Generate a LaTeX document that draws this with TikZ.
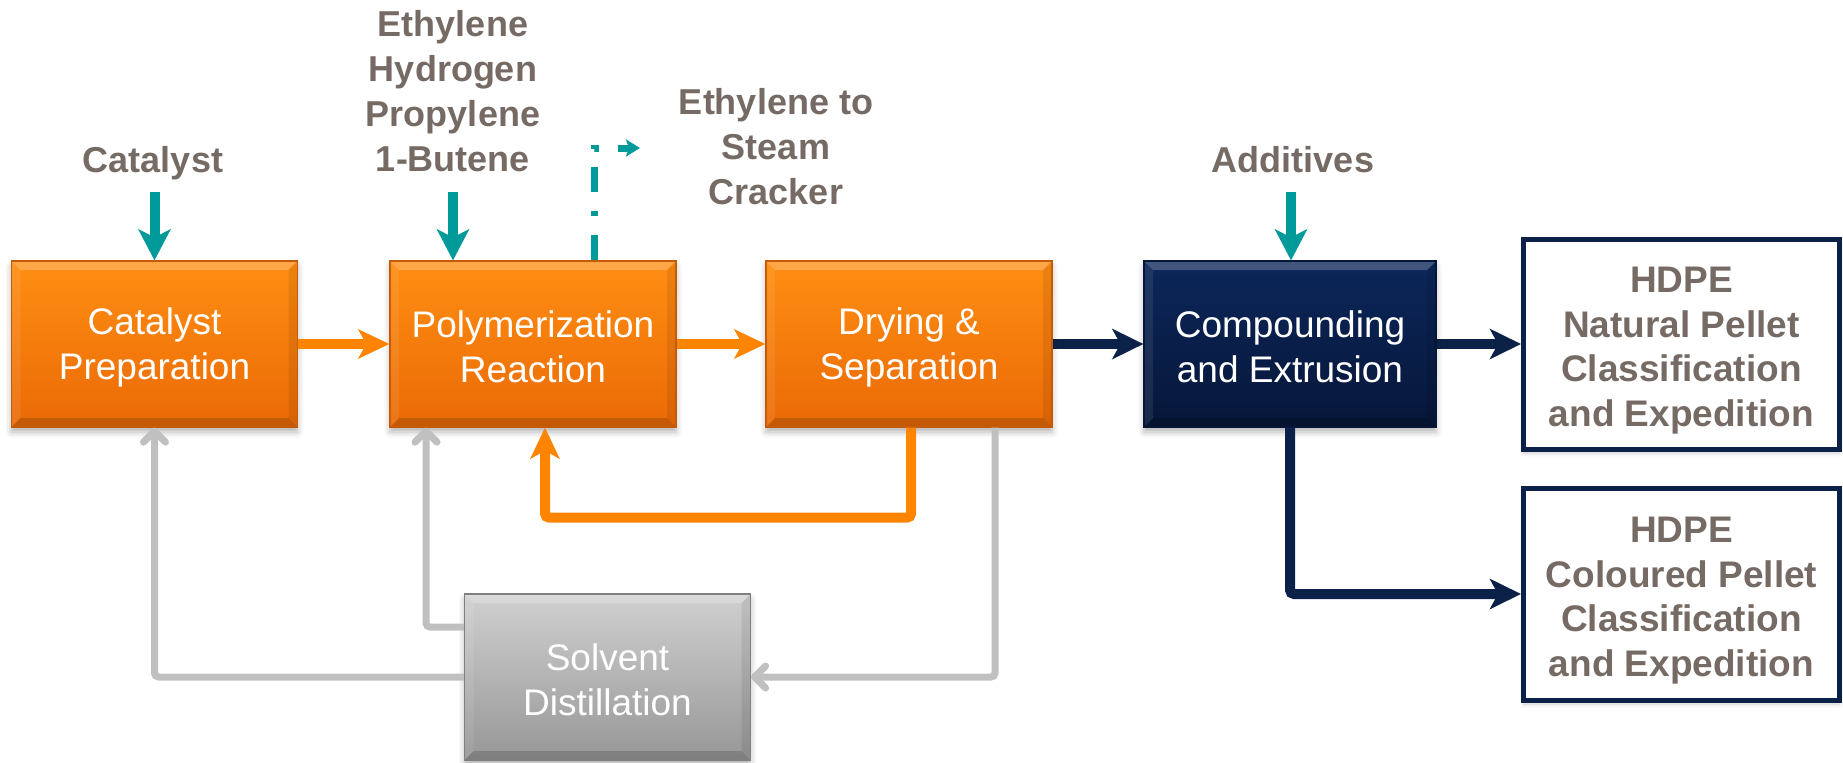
\documentclass[tikz,border=0pt]{standalone}
\usepackage{fontspec}
\setmainfont{Liberation Sans}
\usetikzlibrary{arrows.meta,shadows.blur}

\definecolor{labelgray}{HTML}{766B64}
\definecolor{feedteal}{HTML}{009A9A}
\definecolor{orangeA}{HTML}{FF8E12}
\definecolor{orangeB}{HTML}{EA6A06}
\definecolor{orangeLine}{HTML}{FF8400}
\definecolor{navyA}{HTML}{0C275A}
\definecolor{navyB}{HTML}{061639}
\definecolor{navyLine}{HTML}{0B2147}
\definecolor{greyA}{HTML}{D0D0D0}
\definecolor{greyB}{HTML}{979797}
\definecolor{greyLine}{HTML}{C0C0C0}

% extra height on a first line, to set the lines a little lower in a block
\newcommand\blocklead{\rule{0pt}{16.5pt}}
\newcommand\outlead{\rule{0pt}{19.3pt}}

\tikzset{
  bevel/.style={path picture={
    \path (path picture bounding box.north west) coordinate (bvA)
          (path picture bounding box.north east) coordinate (bvB)
          (path picture bounding box.south east) coordinate (bvC)
          (path picture bounding box.south west) coordinate (bvD);
    \fill[white,opacity=.22] (bvA) -- (bvB) -- ([shift={(-4.5pt,-4.5pt)}]bvB) -- ([shift={(4.5pt,-4.5pt)}]bvA) -- cycle;
    \fill[black,opacity=.16] (bvD) -- (bvC) -- ([shift={(-4.5pt,4.5pt)}]bvC) -- ([shift={(4.5pt,4.5pt)}]bvD) -- cycle;
    \fill[white,opacity=.08] (bvA) -- ([shift={(4.5pt,-4.5pt)}]bvA) -- ([shift={(4.5pt,4.5pt)}]bvD) -- (bvD) -- cycle;
    \fill[black,opacity=.08] (bvB) -- ([shift={(-4.5pt,-4.5pt)}]bvB) -- ([shift={(-4.5pt,4.5pt)}]bvC) -- (bvC) -- cycle;
  }},
  procbox/.style={minimum width=143pt, minimum height=83pt, inner sep=0pt,
    align=center, text=white, font=\fontsize{18.5}{22.5}\selectfont, bevel,
    blur shadow={shadow xshift=0pt, shadow yshift=-2.5pt, shadow blur radius=3pt, shadow opacity=30}},
  orangebox/.style={procbox, top color=orangeA, bottom color=orangeB, draw=orangeB!85!black, line width=0.6pt},
  navybox/.style={procbox, minimum width=146pt, top color=navyA, bottom color=navyB, draw=navyB, line width=0.6pt},
  greybox/.style={procbox, top color=greyA, bottom color=greyB, draw=greyB!85!black, line width=0.6pt},
  outbox/.style={minimum width=158pt, inner sep=0pt, align=center, fill=white,
    draw=navyLine, line width=2.5pt, text=labelgray,
    font=\bfseries\fontsize{18.5}{22.4}\selectfont,
    blur shadow={shadow xshift=0pt, shadow yshift=-2pt, shadow blur radius=2pt, shadow opacity=20}},
  labeltext/.style={inner sep=0pt, align=center, text=labelgray,
    font=\bfseries\fontsize{18}{22.5}\selectfont},
  feedarrow/.style={draw=feedteal, line width=5pt, -{Stealth[length=15.5pt,width=16pt,inset=4pt]}},
  ventarrow/.style={draw=feedteal, line width=3.5pt,
    dash pattern=on 12.5pt off 9.5pt on 2.5pt off 9.5pt,
    -{Stealth[length=7pt,width=8.5pt,inset=1.5pt]}},
  orangearrow/.style={draw=orangeLine, line width=5pt, rounded corners=2pt,
    -{Stealth[length=15.5pt,width=14.5pt,inset=4pt]}},
  navyarrow/.style={draw=navyLine, line width=5pt, rounded corners=2pt,
    -{Stealth[length=15.5pt,width=15pt,inset=4pt]}},
  greyarrow/.style={draw=greyLine, line width=3.5pt, rounded corners=2pt,
    -{Straight Barb[length=5.5pt,width=11pt,round]}}
}

\begin{document}
\begin{tikzpicture}[x=0.5pt,y=-0.5pt]
\useasboundingbox (0,0) rectangle (1843,762);

% process blocks
\node[orangebox] (cat)  at (154.5,344) {\blocklead Catalyst\\Preparation};
\node[orangebox] (poly) at (533,344)   {\blocklead Polymerization\\Reaction};
\node[orangebox] (dry)  at (909,344)   {\blocklead Drying \&\\Separation};
\node[navybox]   (comp) at (1290,344)  {\blocklead Compounding\\and Extrusion};
\node[greybox]   (solv) at (607.5,677) {\blocklead Solvent\\Distillation};

% product blocks
\node[outbox, minimum height=105pt] (nat) at (1681.5,344)
  {\outlead HDPE\\Natural Pellet\\Classification\\and Expedition};
\node[outbox, minimum height=106pt] (col) at (1681.5,594)
  {\outlead HDPE\\Coloured Pellet\\Classification\\and Expedition};

% feed and vent labels
\node[labeltext, anchor=base]  (catlbl)  at (153,172)  {Catalyst};
\node[labeltext, anchor=south] (feedlbl) at (453,172)  {Ethylene\\Hydrogen\\Propylene\\1-Butene};
\node[labeltext, anchor=south] (ventlbl) at (776,205)  {Ethylene to\\Steam\\Cracker};
\node[labeltext, anchor=base]  (addlbl)  at (1293,172) {Additives};

% free ends of the feed streams
\coordinate (catfeed) at (154.5,192);
\coordinate (monomer) at (453,192);
\coordinate (addfeed) at (1291,192);
\coordinate (vent)    at (640,148);

% feeds
\draw[feedarrow] (catfeed) -- (catfeed |- cat.north);
\draw[feedarrow] (monomer) -- (monomer |- poly.north);
\draw[feedarrow] (addfeed) -- (addfeed |- comp.north);
\draw[ventarrow] ([xshift=30.5pt]poly.north) |- (vent);

% main polymer line
\draw[orangearrow] (cat.east) -- (poly.west);
\draw[orangearrow] (poly.east) -- (dry.west);
\draw[orangearrow] ([xshift=1pt]dry.south) -- ++(0,90) -| ([xshift=6pt]poly.south);
\draw[navyarrow] (dry.east) -- (comp.west);
\draw[navyarrow] (comp.east) -- (nat.west);
\draw[navyarrow] (comp.south) |- (col.west);

% solvent recovery loop
\draw[greyarrow] ([xshift=43pt]dry.south) |- (solv.east);
\draw[greyarrow] (solv.west) -| (cat.south);
\draw[greyarrow] ([yshift=25pt]solv.west) -| ([xshift=-53.5pt]poly.south);
\end{tikzpicture}
\end{document}
